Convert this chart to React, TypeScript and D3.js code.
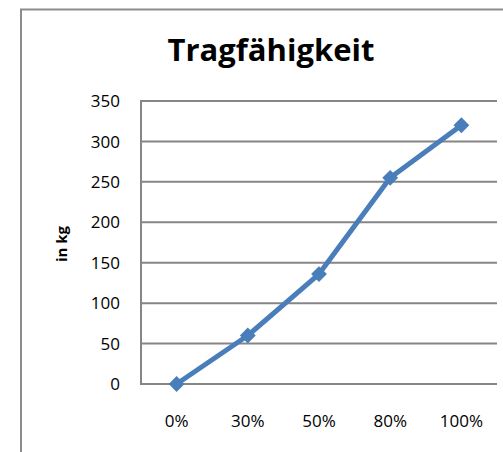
import React from "react";
import * as d3 from "d3";

const categories = ["0%", "30%", "50%", "80%", "100%"];
const values = [0, 60, 136, 255, 320];
const yTicks = [0, 50, 100, 150, 200, 250, 300, 350];
const title = "Tragfähigkeit";
const yLabel = "in kg";

const W = 503;
const H = 452;
const plot = { left: 141, right: 497, top: 101, bottom: 384 };
const FONT = "'Open Sans', 'DejaVu Sans', sans-serif";
const GRID = "#868686";
const BLUE = "#4A7EBB";

export default function App() {
  const x = d3.scaleBand<string>().domain(categories).range([plot.left, plot.right]);
  const y = d3.scaleLinear().domain([0, 350]).range([plot.bottom, plot.top]);
  const line = d3
    .line<number>()
    .x((_, i) => (x(categories[i]) as number) + x.bandwidth() / 2)
    .y((d) => y(d));
  const marker = d3.symbol(d3.symbolSquare, 125)();

  return (
    <svg
      width={W}
      height={H}
      style={{ position: "absolute", left: 0, top: 0, background: "#fff" }}
    >
      <rect x={0} y={0} width={W} height={H} fill="#fff" />
      <rect x={21} y={9.5} width={600} height={600} fill="none" stroke="#8c8c8c" strokeWidth={2} />
      <text
        x={271}
        y={61}
        textAnchor="middle"
        fontFamily={FONT}
        fontWeight="bold"
        fontSize={31}
        fill="#000"
      >
        {title}
      </text>
      {yTicks.map((t) => (
        <g key={t}>
          <line x1={plot.left} x2={plot.right} y1={y(t)} y2={y(t)} stroke={GRID} strokeWidth={2} />
          <text
            x={120}
            y={y(t)}
            dy="0.36em"
            textAnchor="end"
            fontFamily={FONT}
            fontSize={17}
            fill="#000"
          >
            {t}
          </text>
        </g>
      ))}
      <line x1={plot.left} x2={plot.left} y1={plot.top - 1} y2={plot.bottom + 1} stroke={GRID} strokeWidth={2} />
      {categories.map((c) => (
        <text
          key={c}
          x={(x(c) as number) + x.bandwidth() / 2}
          y={427}
          textAnchor="middle"
          fontFamily={FONT}
          fontSize={17}
          fill="#000"
        >
          {c}
        </text>
      ))}
      <text
        transform={`translate(67,244) rotate(-90)`}
        textAnchor="middle"
        fontFamily={FONT}
        fontWeight="bold"
        fontSize={15}
        fill="#000"
      >
        {yLabel}
      </text>
      <path d={line(values) || ""} fill="none" stroke={BLUE} strokeWidth={5} strokeLinejoin="round" />
      {values.map((v, i) => (
        <path
          key={i}
          d={marker || ""}
          transform={`translate(${(x(categories[i]) as number) + x.bandwidth() / 2},${y(v)}) rotate(45)`}
          fill={BLUE}
        />
      ))}
    </svg>
  );
}
